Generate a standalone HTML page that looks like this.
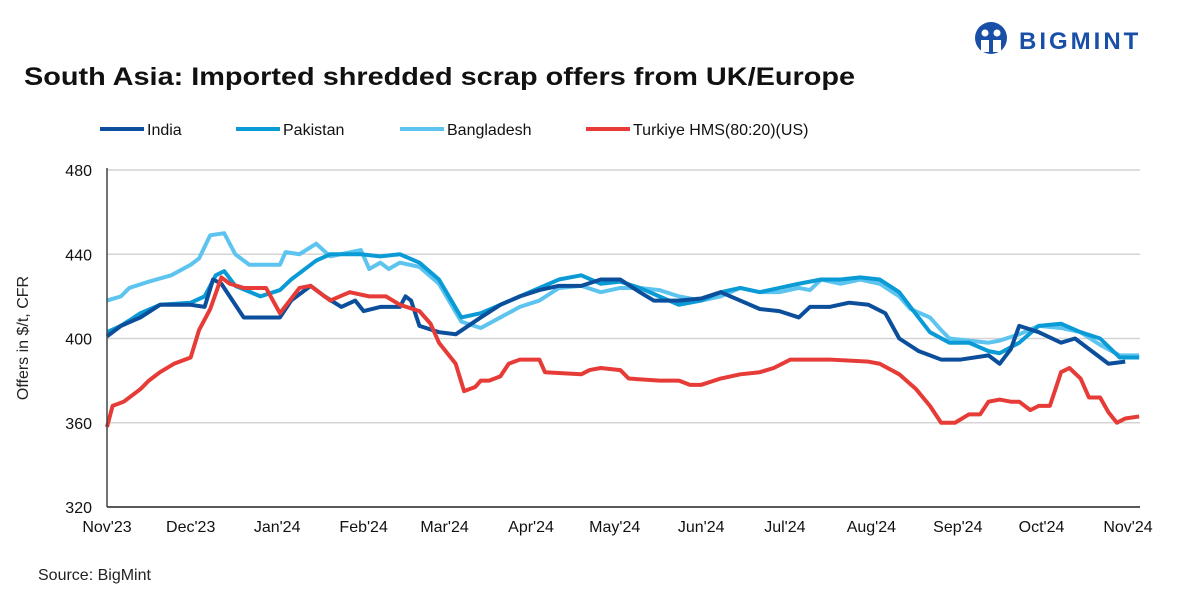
<!DOCTYPE html>
<html><head><meta charset="utf-8"><style>
body{margin:0;background:#fff;font-family:"Liberation Sans",sans-serif;}
svg{display:block}
</style></head><body>
<svg width="1181" height="591" viewBox="0 0 1181 591" id="c">
<g>
<circle cx="991" cy="38" r="16" fill="#1a4fa8"/>
<circle cx="985" cy="33" r="3.5" fill="#fff"/><circle cx="997" cy="33" r="3.5" fill="#fff"/>
<path d="M981 40 h8 v12 h-8z M993 40 h8 v12 h-8z" fill="#fff"/>
<text x="1019" y="49" font-size="24" font-weight="bold" fill="#1a4fa8" letter-spacing="3">BIGMINT</text>
</g>
<text x="24" y="85" font-size="25" font-weight="bold" fill="#111" textLength="831" lengthAdjust="spacingAndGlyphs">South Asia: Imported shredded scrap offers from UK/Europe</text>
<text x="38" y="580" font-size="16" fill="#222">Source: BigMint</text>
<text transform="translate(28,338) rotate(-90)" text-anchor="middle" font-size="16" fill="#222">Offers in $/t, CFR</text>
<g id="grid"></g><g id="lines"></g><g id="axes"></g><g id="legend"></g>
</svg>
<script>
const yTicks=[320,360,400,440,480];
const monthLabels=["Nov'23","Dec'23","Jan'24","Feb'24","Mar'24","Apr'24","May'24","Jun'24","Jul'24","Aug'24","Sep'24","Oct'24","Nov'24"];
const monthDays=[0,30,61,92,121,152,182,213,243,274,305,335,366];
const seriesNames=["India","Pakistan","Bangladesh","Turkiye HMS(80:20)(US)"];
const indiaDays=[0,5,12,19,30,35,38,41,44,49,62,66,73,78,84,89,92,98,103,105,107,109,112,119,125,134,141,148,155,162,170,177,184,191,196,205,213,220,227,234,241,248,252,259,266,273,279,284,291,299,306,316,320,324,327,334,342,347,352,359,365,370];
const indiaVals=[401,406,410,416,416,415,428,426,420,410,410,418,425,420,415,418,413,415,415,415,420,418,406,403,402,410,416,420,423,425,425,428,428,422,418,418,419,422,418,414,413,410,415,415,417,416,412,400,394,390,390,392,388,395,406,403,398,400,395,388,389];
const pakDays=[0,5,12,19,30,35,39,42,46,55,62,66,69,75,80,91,98,105,112,119,127,134,141,148,155,162,170,177,184,191,198,205,213,220,227,234,241,248,256,263,270,277,284,288,295,302,309,316,320,327,334,342,349,356,363,370];
const pakVals=[403,406,412,416,417,420,430,432,425,420,423,428,431,437,440,440,439,440,436,428,410,412,416,420,424,428,430,426,427,424,420,416,418,422,424,422,424,426,428,428,429,428,422,415,403,398,398,394,393,398,406,407,403,400,391,391];
const banDays=[0,5,8,15,23,30,33,37,42,46,51,62,64,69,75,80,91,94,98,101,105,112,119,127,134,141,148,155,162,170,177,184,191,198,205,213,220,227,234,241,248,252,256,263,270,277,284,288,295,299,302,309,316,320,327,334,342,349,356,363,370];
const banVals=[418,420,424,427,430,435,438,449,450,440,435,435,441,440,445,439,442,433,436,433,436,434,426,408,405,410,415,418,424,425,422,424,424,423,420,418,420,424,422,422,424,423,428,426,428,426,420,414,410,404,400,399,398,399,402,406,405,403,397,392,392];
const turDays=[0,2,6,12,15,19,24,30,33,37,41,44,49,57,62,69,73,80,87,94,100,105,112,116,119,125,128,132,134,137,141,144,148,155,157,170,173,177,184,187,198,205,209,213,220,227,234,239,245,259,273,277,284,290,295,299,304,309,313,316,320,324,327,331,334,338,342,345,349,352,356,359,362,365,370];
const turVals=[358,368,370,376,380,384,388,391,404,414,429,426,424,424,412,424,425,418,422,420,420,416,413,407,398,388,375,377,380,380,382,388,390,390,384,383,385,386,385,381,380,380,378,378,381,383,384,386,390,390,389,388,383,376,368,360,360,364,364,370,371,370,370,366,368,368,384,386,381,372,372,365,360,362,363];
const colors=["#0b4f9c","#0a9bd6","#5cc4ef","#e63b36"];
const X0=107,X1=1128,Y0=507,Y1=170;
const xs=d=>X0+(X1-X0)*d/366;
const ys=v=>Y0-(Y0-Y1)*(v-320)/160;
const NS="http://www.w3.org/2000/svg";
function mk(t,a,p){const e=document.createElementNS(NS,t);for(const k in a)e.setAttribute(k,a[k]);p.appendChild(e);return e;}
const grid=document.getElementById('grid'),axes=document.getElementById('axes'),lines=document.getElementById('lines'),leg=document.getElementById('legend');
yTicks.forEach(v=>{
 if(v>320){const l=mk('line',{x1:X0,x2:1140,y1:ys(v),y2:ys(v),stroke:'#d4d4d4','stroke-width':1.5},grid);
 
 }
 const t=mk('text',{x:92,y:ys(v)+6,'text-anchor':'end','font-size':16,fill:'#111'},axes);t.textContent=v;
 
 
});
const ax=mk('line',{x1:X0,x2:1140,y1:Y0,y2:Y0,stroke:'#222','stroke-width':1.5},axes);


const ay=mk('line',{x1:X0,x2:X0,y1:Y1-2,y2:Y0,stroke:'#444','stroke-width':1.5},axes);


monthLabels.forEach((m,i)=>{const t=mk('text',{x:xs(monthDays[i]),y:532,'text-anchor':'middle','font-size':16,fill:'#111'},axes);t.textContent=m;
 
 });
const DS=[[indiaDays,indiaVals],[pakDays,pakVals],[banDays,banVals],[turDays,turVals]];
[2,1,0,3].forEach(i=>{const [d,v]=DS[i];
 const p=mk('polyline',{points:d.map((dd,j)=>xs(dd)+','+ys(v[j])).join(' '),fill:'none',stroke:colors[i],'stroke-width':4,'stroke-linejoin':'round'},lines);
 
 });
const lx=[100,236,400,586];
seriesNames.forEach((n,i)=>{const g=mk('g',{},leg);
 
 
 mk('line',{x1:lx[i],x2:lx[i]+44,y1:129,y2:129,stroke:colors[i],'stroke-width':4},g);
 const t=mk('text',{x:lx[i]+47,y:135,'font-size':16,fill:'#111'},g);t.textContent=n;});
</script>
</body></html>
